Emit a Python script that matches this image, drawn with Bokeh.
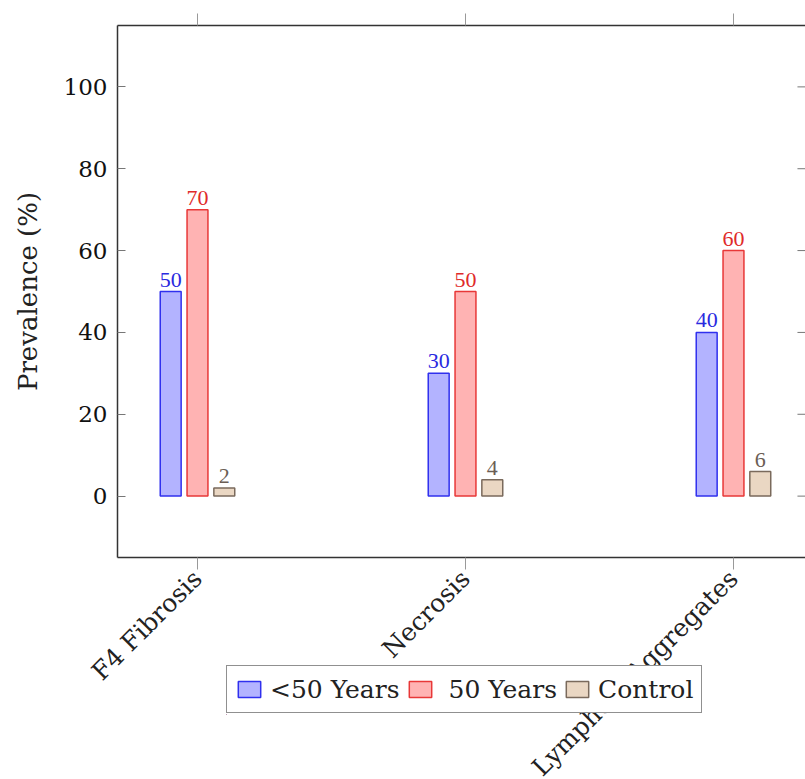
import math
from bokeh.plotting import figure
from bokeh.layouts import column
from bokeh.models import (ColumnDataSource, FixedTicker, LinearAxis, Legend, LegendItem,
                          Range1d)
from bokeh.transform import dodge
from bokeh.embed import file_html
from bokeh.resources import INLINE
from bokeh.core.properties import value

# ---- data ----
categories = ["F4 Fibrosis", "Necrosis", "Lymphoid Aggregates"]
under50 = [50, 30, 40]
over50 = [70, 50, 60]
control = [2, 4, 6]
series_names = ["<50 Years", " 50 Years", "Control"]
y_ticks = [0, 20, 40, 60, 80, 100]

xpos = list(range(len(categories)))
src = ColumnDataSource(dict(
    x=xpos,
    u=under50, o=over50, c=control,
    ul=[str(v) for v in under50],
    ol=[str(v) for v in over50],
    cl=[str(v) for v in control],
))

FONT = "Liberation Serif"
AXFONT = "DejaVu Serif"

p = figure(frame_width=688, frame_height=532,
           x_range=Range1d(-0.2985, 2.2687), y_range=Range1d(-15, 115),
           output_backend="svg", toolbar_location=None,
           min_border_left=117, min_border_top=25, min_border_bottom=222,
           min_border_right=0, x_axis_location=None, y_axis_location=None)
p.outline_line_color = None
p.grid.visible = False
p.background_fill_color = "white"
p.border_fill_color = "white"

# ---- axes ----
yax = LinearAxis(ticker=FixedTicker(ticks=y_ticks))
yax.axis_label = "Prevalence (%)"
yax.axis_label_text_font = AXFONT
yax.axis_label_text_font_size = "26px"
yax.axis_label_text_font_style = "normal"
yax.axis_label_text_color = "#222222"
yax.axis_label_standoff = 18
yax.major_label_text_font = AXFONT
yax.major_label_text_font_size = "23px"
yax.major_label_text_color = "#111111"
yax.major_label_standoff = 10
yax.major_tick_in = 8
yax.major_tick_out = 0
yax.major_tick_line_color = "#777777"
yax.minor_tick_line_color = None
yax.axis_line_color = "#333333"
yax.axis_line_width = 1.5
p.add_layout(yax, "left")

xax = LinearAxis(ticker=FixedTicker(ticks=xpos))
xax.major_label_overrides = {i: c for i, c in zip(xpos, categories)}
xax.major_label_orientation = math.pi / 4
xax.major_label_text_font = AXFONT
xax.major_label_text_font_size = "25px"
xax.major_label_text_color = "#222222"
xax.major_label_standoff = 5
xax.major_tick_in = 0
xax.major_tick_out = 12
xax.major_tick_line_color = "#999999"
xax.minor_tick_line_color = None
xax.axis_line_color = "#333333"
xax.axis_line_width = 1.5
p.add_layout(xax, "below")

tax = LinearAxis(ticker=FixedTicker(ticks=xpos))
tax.major_label_text_font_size = "1px"
tax.major_label_text_color = None
tax.major_label_standoff = 0
tax.major_tick_in = 0
tax.major_tick_out = 12
tax.major_tick_line_color = "#999999"
tax.minor_tick_line_color = None
tax.axis_line_color = "#333333"
tax.axis_line_width = 1.5
p.add_layout(tax, "above")

# right-side inward ticks (frame edge is at window edge)
p.segment(x0=[p.x_range.end - 0.03] * len(y_ticks), x1=[p.x_range.end] * len(y_ticks),
          y0=y_ticks, y1=y_ticks, line_color="#777777", line_width=1)

# ---- bars ----
W = 0.078
specs = [
    ("u", "ul", -0.1, "#b3b3ff", "#3030ee", "#2a2ae0"),
    ("o", "ol", 0.0, "#ffb3b3", "#e83838", "#e02a2a"),
    ("c", "cl", 0.1, "#ead7c3", "#7a6a5c", "#6b5e55"),
]
for col, lab, off, fill, line, tcol in specs:
    p.vbar(x=dodge("x", off), top=col, bottom=0, width=W, source=src,
           fill_color=fill, line_color=line, line_width=1.5)
    p.text(x=dodge("x", off), y=col, text=lab, source=src,
           text_align="center", text_baseline="bottom", y_offset=-5,
           text_font=value(FONT), text_font_size="22px", text_color=tcol)

# ---- legend (separate transparent figure laid over the lower area) ----
# column aligns this figure's left border with the main plot's (117px)
lf = figure(width=117 + 490, height=50, x_range=Range1d(100, 101), y_range=Range1d(100, 101),
            output_backend="svg", toolbar_location=None,
            min_border=0, x_axis_location=None, y_axis_location=None)
lf.outline_line_color = None
lf.grid.visible = False
lf.background_fill_alpha = 0
lf.border_fill_alpha = 0
lrs = []
for col, lab, off, fill, line, tcol in specs:
    lrs.append(lf.vbar(x="x", top=col, bottom=0, width=W, source=src,
                       fill_color=fill, line_color=line, line_width=1.5))
legend = Legend(items=[LegendItem(label=n, renderers=[r]) for n, r in zip(series_names, lrs)],
                orientation="horizontal", location="top_left")
legend.label_text_font = AXFONT
legend.label_text_font_size = "25px"
legend.label_text_color = "#222222"
legend.label_height = 30
legend.border_line_color = "#222222"
legend.border_line_width = 1.5
legend.background_fill_color = "white"
legend.background_fill_alpha = 1.0
legend.glyph_width = 28
legend.glyph_height = 20
legend.padding = 8
legend.spacing = 6
legend.margin = 0
legend.label_standoff = 7
lf.add_layout(legend, "center")
lf.margin = (-129, 0, 0, 226 - 117)

layout = column(p, lf, spacing=0)
open("out.html", "w").write(file_html(layout, INLINE))
